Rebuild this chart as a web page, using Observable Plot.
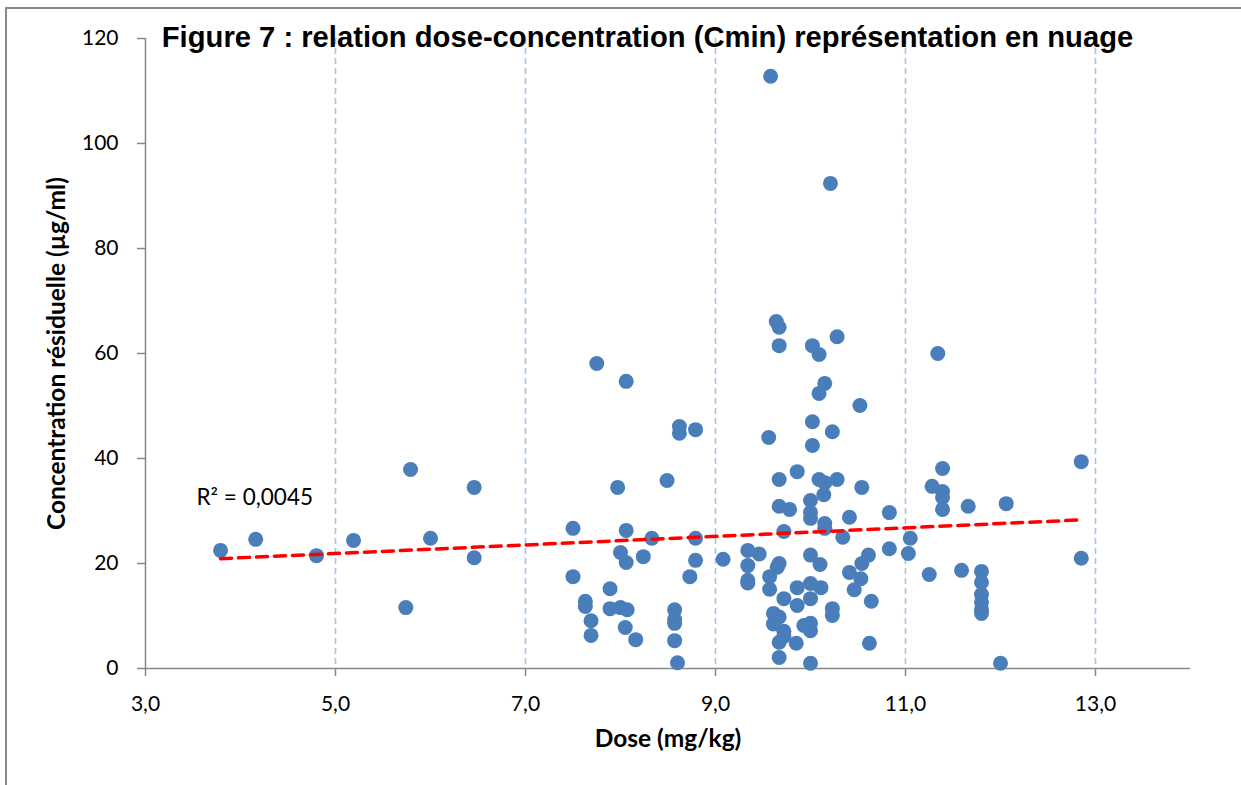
<!DOCTYPE html>
<html>
<head>
<meta charset="utf-8">
<script src="https://cdn.jsdelivr.net/npm/d3@7"></script>
<script src="https://cdn.jsdelivr.net/npm/@observablehq/plot@0.6"></script>
<style>
  html, body { margin: 0; padding: 0; background: #fff; }
  #wrap { position: relative; width: 1241px; height: 785px; overflow: hidden; }
  #frame { position: absolute; left: 5px; top: 7px; width: 1300px; height: 900px;
           border-left: 2px solid #898989; border-top: 2px solid #898989; }
  #title { position: absolute; left: 0; top: 20px; width: 1295px; text-align: center;
           font-family: "Liberation Sans", Arial, sans-serif; font-weight: bold;
           font-size: 29.2px; line-height: 34px; color: #000; white-space: nowrap; }
  #chart { position: absolute; left: 0; top: 0; }
</style>
</head>
<body>
<div id="wrap">
  <div id="frame"></div>
  <div id="chart"></div>
  <div id="title">Figure 7 : relation dose-concentration (Cmin) représentation en nuage</div>
</div>
<script>
// Dose (mg/kg)
const dose = [
  3.79, 4.16, 4.80, 5.19, 5.74, 5.79, 6.00, 6.46, 6.46,
  7.50, 7.50, 7.63, 7.63, 7.69, 7.69, 7.75, 7.89, 7.89, 7.97, 8.00, 8.00, 8.05,
  8.06, 8.06, 8.06, 8.07, 8.16, 8.24, 8.33, 8.49, 8.57, 8.57, 8.57, 8.57, 8.60,
  8.62, 8.62, 8.73, 8.79, 8.79, 8.79, 9.08, 9.34, 9.34, 9.34, 9.34, 9.46, 9.56,
  9.57, 9.57, 9.58, 9.61, 9.61, 9.64, 9.65, 9.67, 9.67, 9.67, 9.67, 9.67, 9.67,
  9.67, 9.67, 9.72, 9.72, 9.72, 9.72, 9.78, 9.85, 9.86, 9.86, 9.86, 9.93,
  10.00, 10.00, 10.00, 10.00, 10.00, 10.00, 10.00, 10.00, 10.00, 10.02, 10.02, 10.02,
  10.09, 10.09, 10.09, 10.10, 10.11, 10.14, 10.15, 10.15, 10.15, 10.15, 10.21,
  10.23, 10.23, 10.23, 10.28, 10.28, 10.34, 10.41, 10.41, 10.46, 10.52, 10.53,
  10.54, 10.54, 10.61, 10.62, 10.64, 10.83, 10.83, 11.03, 11.05, 11.25, 11.28,
  11.34, 11.39, 11.39, 11.39, 11.39, 11.59, 11.66, 11.80, 11.80, 11.80, 11.80,
  11.80, 11.80, 12.00, 12.06, 12.85, 12.85
];
// Concentration résiduelle (µg/ml)
const conc = [
  22.5, 24.6, 21.5, 24.4, 11.6, 37.9, 24.8, 21.1, 34.5,
  26.7, 17.5, 12.8, 11.8, 9.1, 6.3, 58.1, 15.2, 11.4, 34.5, 22.1, 11.6, 7.8,
  54.7, 26.3, 20.2, 11.2, 5.5, 21.3, 24.8, 35.8, 11.2, 9.3, 8.6, 5.3, 1.1,
  46.1, 44.8, 17.5, 45.5, 24.8, 20.6, 20.8, 22.5, 19.6, 16.8, 16.3, 21.8, 44.0,
  17.5, 15.1, 112.8, 10.5, 8.5, 66.1, 19.3, 65.0, 61.5, 36.0, 30.9, 20.0, 9.8,
  5.0, 2.1, 26.1, 13.3, 7.1, 6.1, 30.3, 4.8, 37.5, 15.4, 12.0, 8.2,
  32.0, 29.7, 28.6, 21.6, 16.2, 13.3, 8.6, 7.2, 1.0, 61.5, 47.0, 42.5,
  59.8, 52.4, 36.0, 19.8, 15.4, 33.1, 54.3, 35.4, 27.6, 26.7, 92.4,
  45.1, 11.4, 10.1, 63.2, 36.0, 25.0, 28.8, 18.3, 15.0, 50.1, 17.1,
  34.5, 20.0, 21.6, 4.8, 12.8, 29.7, 22.8, 21.9, 24.8, 17.9, 34.7,
  60.0, 38.1, 33.7, 32.6, 30.3, 18.7, 30.9, 18.5, 16.4, 14.1, 12.6,
  11.2, 10.5, 1.0, 31.4, 39.4, 21.0
];
const xTicks = [3, 5, 7, 9, 11, 13];
const yTicks = [0, 20, 40, 60, 80, 100, 120];
const gridX = [5, 7, 9, 11, 13];
const r2Text = ["R² = 0,0045"];
const r2Pos = {x: 4.15, y: 32.6};
const xLabel = "Dose (mg/kg)";
const yLabel = "Concentration résiduelle (µg/ml)";

const data = dose.map((d, i) => ({dose: d, conc: conc[i]}));
const fmt = d => d3.format(".1f")(d).replace(".", ",");
const tickFont = "Lato, 'Open Sans', sans-serif";

const chart = Plot.plot({
  width: 1241,
  height: 785,
  marginLeft: 145,
  marginRight: 51,
  marginTop: 38,
  marginBottom: 117,
  style: {fontFamily: tickFont, background: "transparent", overflow: "visible"},
  x: {domain: [3, 14]},
  y: {domain: [0, 120]},
  marks: [
    Plot.ruleX(gridX, {stroke: "#a7c1e3", strokeWidth: 1.6, strokeDasharray: "6,4"}),
    Plot.ruleX([3], {stroke: "#878787", strokeWidth: 1.5}),
    Plot.ruleY([0], {stroke: "#878787", strokeWidth: 1.5}),
    Plot.axisX({ticks: xTicks, tickFormat: fmt, tickSize: 8, tickPadding: 20,
      stroke: "#878787", strokeWidth: 1.5, fontSize: 21, color: "#000", label: null}),
    Plot.axisY({ticks: yTicks, tickSize: 8, tickPadding: 19,
      stroke: "#878787", strokeWidth: 1.5, fontSize: 21, color: "#000", label: null}),
    Plot.dot(data, {x: "dose", y: "conc", r: 7.5, fill: "#4a7ebb", stroke: "none"}),
    Plot.linearRegressionY(data, {x: "dose", y: "conc", ci: 0, stroke: "#ff0000",
      strokeWidth: 3.5, strokeDasharray: "11,7"}),
    Plot.text(r2Text, {x: () => r2Pos.x, y: () => r2Pos.y, text: d => d,
      fontSize: 22.5, fill: "#000"}),
    Plot.text([xLabel], {frameAnchor: "bottom", dy: 78, text: d => d,
      fontWeight: "bold", fontSize: 24.5, fill: "#000"}),
    Plot.text([yLabel], {frameAnchor: "left", dx: -88, rotate: -90, textAnchor: "middle",
      text: d => d, fontWeight: "bold", fontSize: 24.5, fill: "#000"})
  ]
});
document.getElementById("chart").appendChild(chart);
</script>
</body>
</html>
